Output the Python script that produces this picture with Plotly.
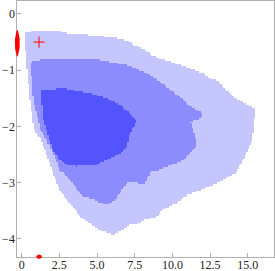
import numpy as np
import plotly.graph_objects as go

# Region boundaries (data coordinates)
light_x = [0.15, 0.6, 1.5, 2.3, 3.0, 4.0, 5.2, 6.3, 7.0, 7.5, 8.2, 8.6, 9.2, 9.8, 10.9, 12.0, 12.5, 13.1,
           13.6, 14.2, 15.0, 15.5, 15.4, 15.3, 14.8, 14.2, 13.0, 11.9, 11.0, 10.2, 9.3, 9.06, 8.2, 7.5,
           7.2, 6.7, 6.1, 5.2, 4.5, 3.9, 3.2, 2.5, 2.1, 1.7, 1.3, 0.8, 0.55, 0.33]
light_y = [-0.33, -0.31, -0.30, -0.29, -0.34, -0.36, -0.39, -0.43, -0.47, -0.56, -0.64, -0.73, -0.80,
           -0.84, -0.94, -1.05, -1.14, -1.20, -1.35, -1.50, -1.62, -1.68, -2.0, -2.24, -2.54, -2.83,
           -3.01, -3.13, -3.22, -3.38, -3.49, -3.60, -3.66, -3.75, -3.74, -3.84, -3.93, -3.84, -3.72,
           -3.60, -3.37, -3.13, -2.83, -2.54, -2.24, -2.06, -1.53, -0.94]

mid_x = [0.66, 1.2, 3.0, 5.2, 7.0, 7.85, 8.7, 9.6, 10.5, 11.2, 12.05, 11.8, 11.2, 11.4, 11.6, 11.6, 10.8,
         9.7, 9.06, 8.63, 8.18, 7.74, 7.07, 6.64, 6.19, 5.64, 4.86, 4.09, 3.2, 2.54, 2.0, 1.25, 0.77, 0.6]
mid_y = [-0.85, -0.82, -0.81, -0.82, -0.91, -1.0, -1.11, -1.29, -1.47, -1.65, -1.77, -1.88, -1.91,
         -2.09, -2.24, -2.36, -2.6, -2.71, -2.77, -2.77, -3.01, -3.01, -2.98, -3.13, -3.31, -3.40,
         -3.31, -3.25, -2.95, -2.77, -2.42, -2.06, -1.53, -0.94]

dark_x = [1.33, 2.76, 4.53, 5.64, 6.52, 7.19, 7.63, 7.19, 6.97, 6.52, 5.64, 4.98, 3.65, 2.99, 2.54,
          2.1, 1.77, 1.43, 1.33]
dark_y = [-1.35, -1.32, -1.41, -1.5, -1.62, -1.77, -1.91, -2.12, -2.36, -2.48, -2.6, -2.68, -2.71,
          -2.68, -2.6, -2.42, -2.18, -1.88, -1.53]

# Point estimate and its marginal spreads
point_x = [1.15]
point_y = [-0.5]
marg_y_center = -0.52
marg_y_half = 0.24
marg_x_center = 1.15
marg_x_half = 0.2

x_ticks = [0, 2.5, 5.0, 7.5, 10.0, 12.5, 15.0]
x_tick_text = ["0", "2.5", "5.0", "7.5", "10.0", "12.5", "15.0"]
y_ticks = [0, -1, -2, -3, -4]
y_tick_text = ["0", "\u22121", "\u22122", "\u22123", "\u22124"]

X_RANGE = [-0.29, 16.74]
Y_RANGE = [-4.315, 0.23]

LIGHT = "rgb(198,198,255)"
MID = "rgb(140,140,255)"
DARK = "rgb(84,84,255)"

W, H = 275, 271
ML, MR, MT, MB = 12, 1, 1, 10
PLOT_L, PLOT_B = 17.3, 256.7   # frame position in pixels
pw, ph = W - ML - MR, H - MT - MB
x_dom0 = (PLOT_L - ML) / pw
y_dom0 = (H - MB - PLOT_B) / ph
sx = (W - MR - PLOT_L) / (X_RANGE[1] - X_RANGE[0])
sy = (PLOT_B - MT) / (Y_RANGE[1] - Y_RANGE[0])
X2_RANGE = [X_RANGE[0] - (PLOT_L - ML) / sx, X_RANGE[1]]
Y2_RANGE = [Y_RANGE[0] - (H - MB - PLOT_B) / sy, Y_RANGE[1]]


def inside(px, py, xs, ys):
    xs = np.asarray(xs); ys = np.asarray(ys)
    res = np.zeros(px.shape, dtype=bool)
    n = len(xs)
    j = n - 1
    for i in range(n):
        xi, yi, xj, yj = xs[i], ys[i], xs[j], ys[j]
        cond = ((yi > py) != (yj > py))
        with np.errstate(divide="ignore", invalid="ignore"):
            xint = (xj - xi) * (py - yi) / (yj - yi) + xi
        res ^= cond & (px < xint)
        j = i
    return res


gx = np.arange(-0.25, 16.7, 0.1)
gy = np.arange(-4.3, 0.2, 0.03)
PX, PY = np.meshgrid(gx, gy)
z = (inside(PX, PY, light_x, light_y).astype(float)
     + inside(PX, PY, mid_x, mid_y).astype(float)
     + inside(PX, PY, dark_x, dark_y).astype(float))
z[z == 0] = np.nan

fig = go.Figure()
fig.add_trace(go.Heatmap(
    x=gx, y=gy, z=z, zmin=1, zmax=3, zsmooth=False, showscale=False, hoverinfo="skip",
    colorscale=[[0, LIGHT], [0.25, LIGHT], [0.25, MID], [0.75, MID], [0.75, DARK], [1, DARK]]))

fig.add_trace(go.Scatter(x=point_x, y=point_y, mode="markers", cliponaxis=False,
                         marker=dict(symbol="cross-thin", size=8, color="red",
                                     line=dict(color="red", width=1))))

# marginal spreads drawn as lens shapes on a second subplot that reaches past the frame
t = np.linspace(0, 2 * np.pi, 60)
lens = np.cos(t)
left_x = X_RANGE[0] + (2.5 / sx) * np.sin(t) * (0.45 + 0.55 * np.abs(np.sin(t)))
left_y = marg_y_center + marg_y_half * lens
fig.add_trace(go.Scatter(x=left_x, y=left_y, xaxis="x2", yaxis="y2", mode="lines",
                         fill="toself", fillcolor="red", line=dict(width=0), hoverinfo="skip"))
bot_x = marg_x_center + marg_x_half * lens
bot_y = Y_RANGE[0] + (2.2 / sy) * np.sin(t) * (0.35 + 0.65 * np.abs(np.sin(t)))
fig.add_trace(go.Scatter(x=bot_x, y=bot_y, xaxis="x2", yaxis="y2", mode="lines",
                         fill="toself", fillcolor="red", line=dict(width=0), hoverinfo="skip"))

axis_common = dict(showgrid=False, zeroline=False, showline=True, mirror=True, automargin=False,
                   linecolor="#b0b0b0", linewidth=1, ticks="inside", ticklen=4,
                   tickcolor="#b0b0b0", tickwidth=1,
                   tickfont=dict(family="Liberation Serif", size=12, color="#222"))

fig.update_layout(
    width=W, height=H, margin=dict(l=ML, r=MR, t=MT, b=MB),
    paper_bgcolor="white", plot_bgcolor="rgba(0,0,0,0)", showlegend=False,
    xaxis=dict(range=X_RANGE, domain=[x_dom0, 1], tickvals=x_ticks, ticktext=x_tick_text,
               ticklabelstandoff=-3, anchor="y", **axis_common),
    yaxis=dict(range=Y_RANGE, domain=[y_dom0, 1], tickvals=y_ticks, ticktext=y_tick_text,
               ticklabelstandoff=-1, anchor="x", **axis_common),
    xaxis2=dict(range=X2_RANGE, domain=[0, 1], visible=False, anchor="y2"),
    yaxis2=dict(range=Y2_RANGE, domain=[0, 1], visible=False, anchor="x2"),
)

fig.write_html("out.html", config={"displayModeBar": False},
               post_script="document.body.style.margin='0';document.body.style.overflow='hidden';")
